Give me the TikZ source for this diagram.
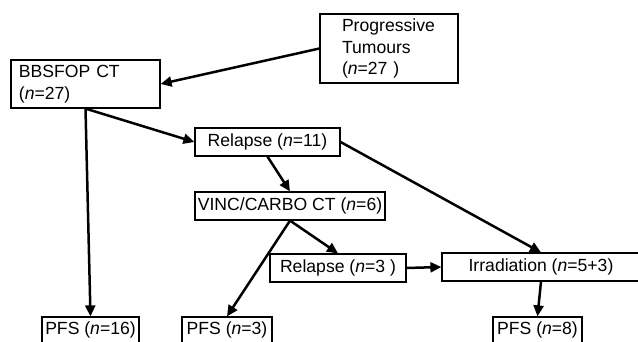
\documentclass[tikz,border=0pt]{standalone}
\usepackage{fontspec}
\setmainfont{Liberation Sans}
\usetikzlibrary{arrows.meta}

\tikzset{
          box/.style = {draw = black, line width = 1.2pt, rectangle, inner sep = 0pt,
                        font = \fontsize{17.6}{21.5}\selectfont, minimum width = #1},
          flow/.style = {line width = 2.5pt, -{Triangle[length=11pt,width=10pt]}},
          pfs/.style = {box = #1, minimum height = 26pt}
        }

\begin{document}
\begin{tikzpicture}[x=1pt,y=-1pt]
          \useasboundingbox (0,0) rectangle (638,342);

          \node[box=138pt, minimum height=69pt, align=left, text width=94pt, inner xsep=22pt]
            (prog) at (389,48.5) {Progressive\\Tumours\\(\textit{n}=27 )};
          \node[box=149pt, minimum height=48pt, align=left, text width=133pt, inner xsep=8pt]
            (bbsfop) at (85.5,84) {BBSFOP CT\\(\textit{n}=27)};

          \node[box=145pt, minimum height=28pt] (rel1) at (267.5,142) {Relapse (\textit{n}=11)};
          \node[box=190pt, minimum height=28pt] (vinc) at (290,206) {VINC/CARBO CT (\textit{n}=6)};
          \node[box=136pt, minimum height=28pt] (rel2) at (338,268) {Relapse (\textit{n}=3 )};
          \node[box=198pt, minimum height=28pt] (irr)  at (541,267) {Irradiation (\textit{n}=5+3)};

          \foreach \nm/\xi/\bw/\nn in {pfsA/90.5/97/16,pfsB/227/90/3,pfsC/537.5/89/8}{
            \node[pfs=\bw pt] (\nm) at (\xi,330) {PFS (\textit{n}=\nn)};
          }

          \draw[flow] (prog.west)   -- (bbsfop.east);
          \draw[flow] (bbsfop.south) -- (rel1.west);
          \draw[flow] (bbsfop.south) -- (pfsA.north);
          \draw[flow] (rel1.south)  -- (vinc.north);
          \draw[flow] (rel1.east)   -- (irr.north);
          \draw[flow] (vinc.south)  -- (rel2.north);
          \draw[flow] (vinc.south)  -- (pfsB.north);
          \draw[flow] (rel2.east)   -- (irr.west);
          \draw[flow] (irr.south)   -- (pfsC.north);
        \end{tikzpicture}
\end{document}
